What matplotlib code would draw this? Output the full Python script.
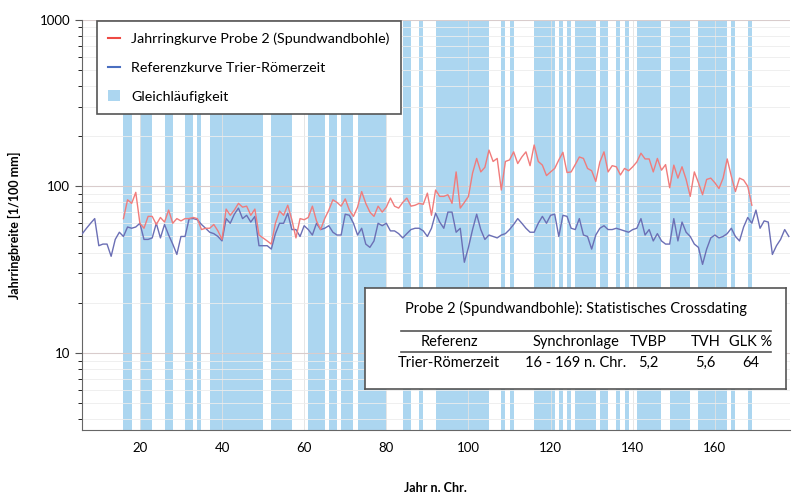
#%% libs
import numpy as np
import matplotlib.pyplot as plt
from matplotlib.patches import Patch
from matplotlib.lines import Line2D

#%% data
# Referenzkurve Trier-Roemerzeit, years 5..178
blue_start = 5
blue_vals = [50, 52, 56, 60, 64, 44, 45, 45, 38, 48,     # 5-14
             53, 50, 57, 56, 57, 60, 48, 48, 49, 60,     # 15-24
             49, 59, 51, 45, 39, 50, 50, 64, 64, 63,     # 25-34
             59, 56, 53, 52, 50, 47, 64, 60, 68, 74,     # 35-44
             64, 67, 61, 66, 44, 44, 44, 42, 52, 60,     # 45-54
             60, 69, 55, 55, 50, 58, 55, 51, 60, 55,     # 55-64
             56, 58, 53, 51, 51, 68, 67, 60, 51, 56,     # 65-74
             45, 43, 47, 60, 58, 60, 54, 54, 52, 49,     # 75-84
             52, 55, 56, 56, 54, 50, 56, 69, 61, 56,     # 85-94
             70, 70, 53, 56, 35, 43, 55, 68, 55, 48,     # 95-104
             51, 50, 49, 51, 52, 55, 59, 64, 60, 56,     # 105-114
             53, 53, 60, 66, 60, 67, 68, 50, 67, 66,     # 115-124
             56, 55, 64, 51, 50, 42, 51, 56, 58, 55,     # 125-134
             55, 56, 55, 54, 53, 55, 56, 64, 51, 55,     # 135-144
             47, 52, 47, 45, 45, 64, 47, 61, 53, 50,     # 145-154
             45, 43, 34, 42, 49, 51, 49, 50, 52, 56,     # 155-164
             50, 47, 57, 65, 60, 72, 56, 62, 61, 39,     # 165-174
             44, 48, 55, 50]                             # 175-178

# Jahrringkurve Probe 2 (Spundwandbohle), years 16..169
red_start = 16
red_vals = [64, 83, 79, 92, 60, 56, 66, 66, 59, 65,      # 16-25
            61, 72, 60, 64, 62, 64, 64, 65, 64, 55,      # 26-35
            56, 56, 59, 54, 48, 73, 67, 72, 79, 75,      # 36-45
            76, 67, 73, 51, 49, 47, 45, 60, 71, 67,      # 46-55
            77, 63, 49, 64, 63, 65, 76, 62, 55, 64,      # 56-65
            72, 83, 80, 76, 84, 72, 66, 75, 93, 79,      # 66-75
            70, 66, 76, 70, 75, 85, 76, 74, 80, 85,      # 76-85
            76, 77, 79, 78, 91, 67, 95, 87, 87, 89,      # 86-95
            79, 122, 74, 80, 87, 120, 147, 122, 130, 165,  # 96-105
            141, 147, 95, 141, 144, 161, 137, 150, 161, 133,  # 106-115
            177, 141, 134, 116, 122, 128, 144, 160, 121, 122,  # 116-125
            135, 150, 147, 128, 124, 107, 140, 161, 122, 133,  # 126-135
            131, 117, 128, 124, 131, 140, 158, 146, 146, 122,  # 136-145
            147, 125, 135, 98, 134, 112, 131, 110, 87, 122,    # 146-155
            105, 89, 110, 112, 105, 97, 112, 146, 115, 93,     # 156-165
            112, 109, 100, 77]                                 # 166-169

# Gleichlaeufigkeit intervals (start year, end year)
glk_start = [16, 20, 26, 31, 34, 37, 52, 61, 66, 67, 69, 73, 84, 88, 92,
             94, 108, 110, 116, 117, 119, 122, 124, 126, 132, 136, 138,
             141, 149, 156, 164, 168]
glk_end = [18, 23, 28, 33, 35, 50, 57, 65, 67, 68, 72, 80, 86, 89, 94,
           105, 109, 111, 117, 119, 121, 123, 125, 131, 134, 137, 139,
           147, 154, 163, 165, 169]

# crossdating table
tab_title = 'Probe 2 (Spundwandbohle): Statistisches Crossdating'
tab_header = ['Referenz', 'Synchronlage', 'TVBP', 'TVH', 'GLK %']
tab_row = ['Trier-Römerzeit', '16 - 169 n. Chr.', '5,2', '5,6', '64']

#%% plot settings
plt.rcParams['font.family'] = ['Lato', 'DejaVu Sans']
c_red = '#f07c7c'
c_blue = '#6b6fb5'
c_bar = '#acd6f0'

years_blue = np.arange(blue_start, blue_start + len(blue_vals))
years_red = np.arange(red_start, red_start + len(red_vals))

fig = plt.figure(figsize=(7.92, 4.93), dpi=100)
ax = fig.add_axes([0.1035, 0.128, 0.8935, 0.832])

for s, e in zip(glk_start, glk_end):
    ax.axvspan(s, e, color=c_bar, lw=0, zorder=1)

ax.plot(years_blue, blue_vals, color=c_blue, lw=1.0, zorder=3)
ax.plot(years_red, red_vals, color=c_red, lw=1.0, zorder=3)

ax.set_yscale('log')
ax.set_ylim(3.45, 1000)
ax.set_xlim(5.9, 178.2)
ax.set_xticks(np.arange(20, 161, 20))
ax.set_yticks([10, 100, 1000])
ax.set_yticklabels(['10', '100', '1000'])
ax.grid(True, which='major', axis='y', color='#d9cccc', lw=0.8, zorder=2)
ax.grid(True, which='major', axis='x', color='#e2e2e2', lw=0.6, zorder=2)
ax.grid(True, which='minor', axis='y', color='#ededed', lw=0.6, zorder=2)
ax.tick_params(axis='both', labelsize=9.5, colors='#555555', labelcolor='black')
ax.tick_params(axis='x', length=0, pad=9)
ax.tick_params(axis='y', which='major', length=5)
ax.tick_params(axis='y', which='minor', length=3)
for side in ['top', 'right']:
    ax.spines[side].set_visible(False)
for side in ['left', 'bottom']:
    ax.spines[side].set_color('#666666')

ax.set_xlabel('Jahr n. Chr.', fontsize=9, fontweight='bold', labelpad=20)
ax.set_ylabel('Jahrringbreite [1/100 mm]', fontsize=9, fontweight='bold', labelpad=13)

#%% legend
handles = [Line2D([], [], color='#ee4a44', lw=1.5),
           Line2D([], [], color='#4a6fc0', lw=1.5),
           Patch(facecolor=c_bar, edgecolor='none')]
labels = ['Jahrringkurve Probe 2 (Spundwandbohle)',
          'Referenzkurve Trier-Römerzeit',
          'Gleichläufigkeit']
leg = ax.legend(handles, labels, loc='upper left', bbox_to_anchor=(0.021, 0.997),
                fontsize=10.3, frameon=True, fancybox=False, handlelength=0.8,
                handleheight=0.8, labelspacing=1.15, borderpad=0.8,
                handletextpad=0.8, borderaxespad=0)
leg.get_frame().set_edgecolor('#555555')
leg.get_frame().set_linewidth(1.2)
leg.get_frame().set_alpha(1)
leg.set_zorder(5)

#%% crossdating table
box = ax.inset_axes([0.40, 0.10, 0.595, 0.245])
box.set_xticks([])
box.set_yticks([])
box.set_xlim(0, 1)
box.set_ylim(0, 1)
box.set_facecolor('white')
for sp in box.spines.values():
    sp.set_color('#555555')
    sp.set_linewidth(1.2)
box.set_zorder(6)
box.text(0.5, 0.80, tab_title, ha='center', va='center', fontsize=10.5)
box.plot([0.085, 0.965], [0.575, 0.575], color='#555555', lw=1.2)
box.plot([0.085, 0.965], [0.37, 0.37], color='#555555', lw=1.2)
col_x = [0.20, 0.50, 0.672, 0.808, 0.915]
for cx, h, r in zip(col_x, tab_header, tab_row):
    box.text(cx, 0.47, h, ha='center', va='center', fontsize=10.5)
    box.text(cx, 0.255, r, ha='center', va='center', fontsize=10.5)

plt.savefig('out.png', dpi=100)
